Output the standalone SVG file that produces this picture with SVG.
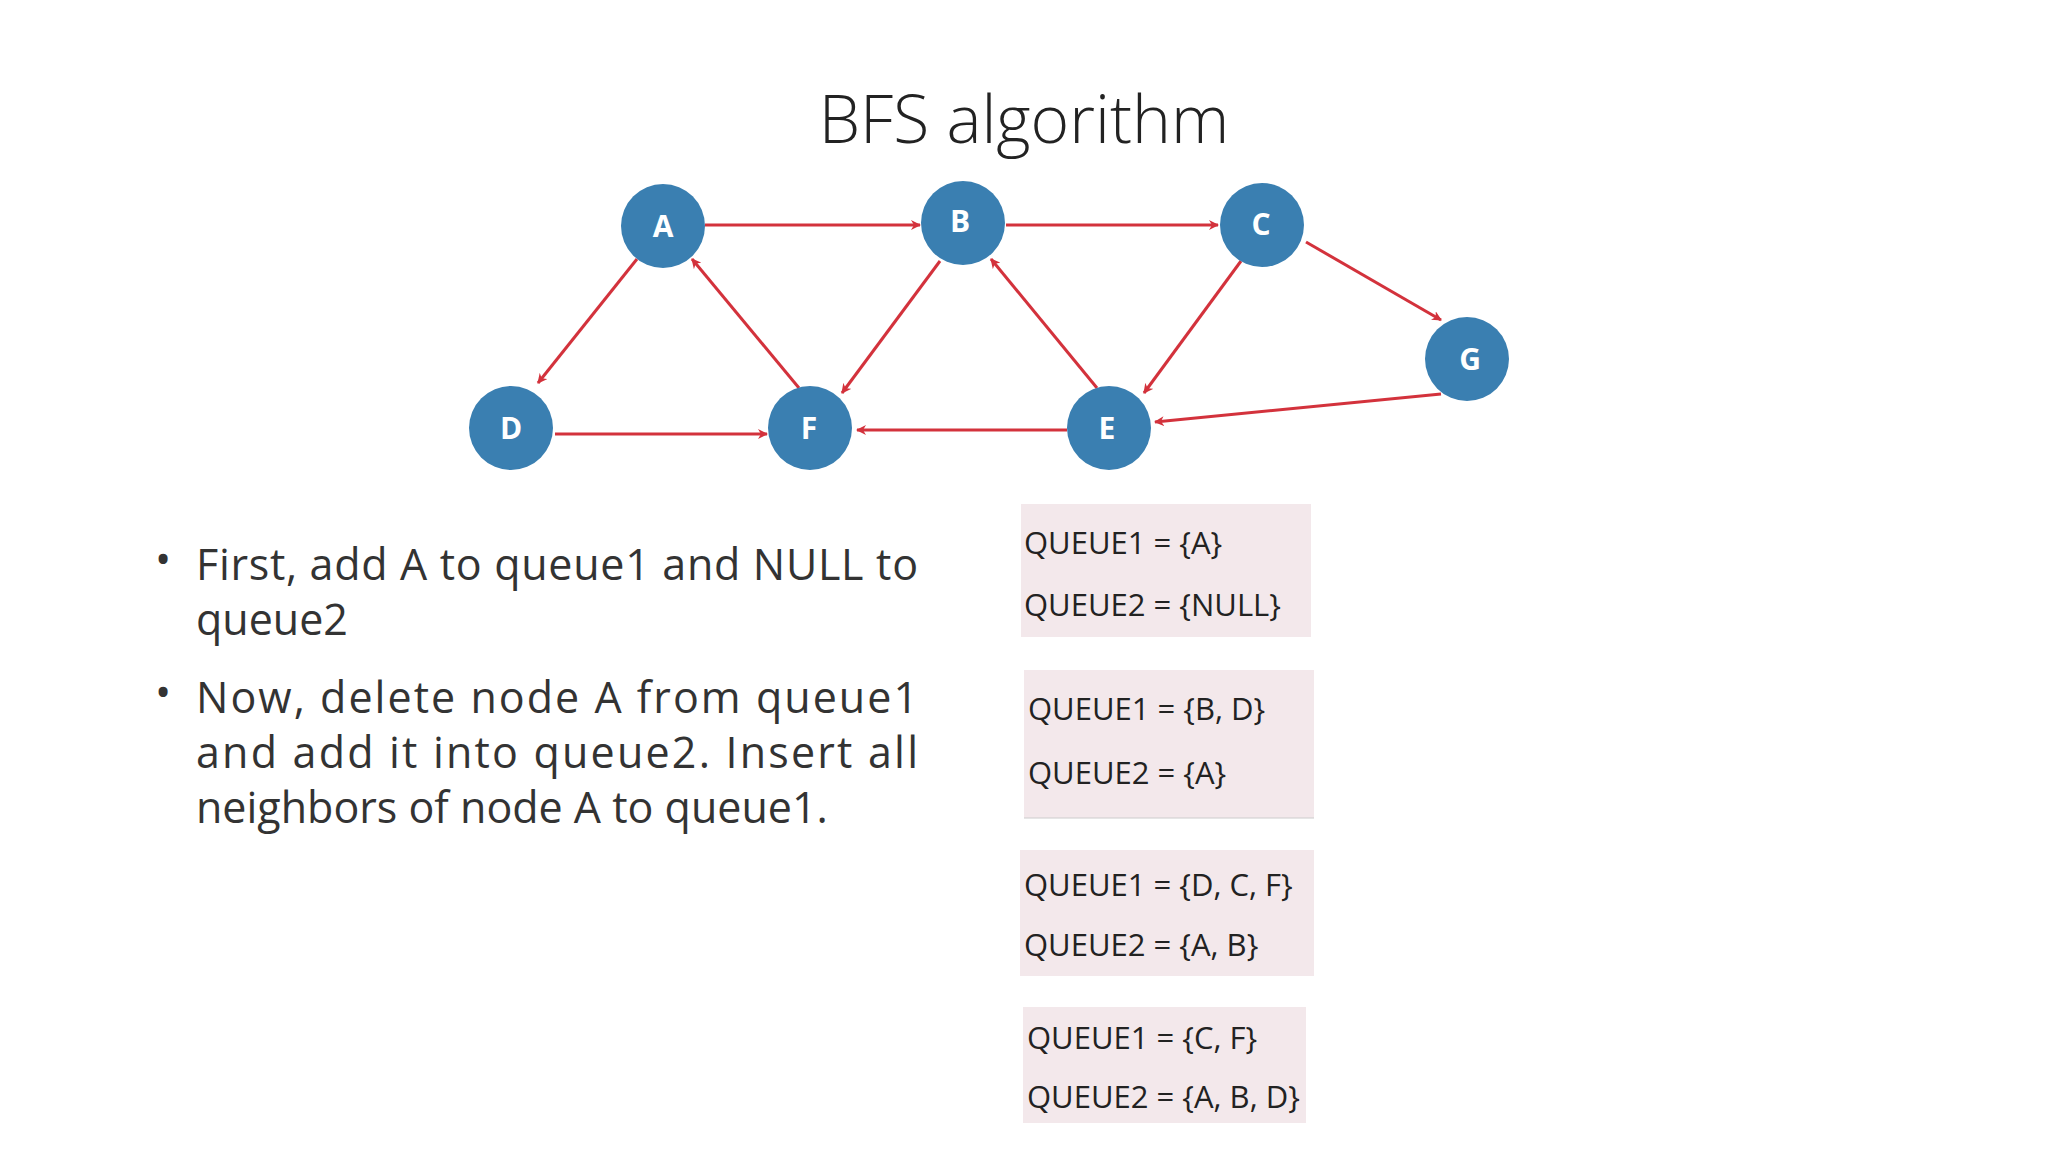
<svg xmlns="http://www.w3.org/2000/svg" width="2048" height="1152" viewBox="0 0 2048 1152">
<style>
.n{fill:#3a7fb1}
.l{fill:#fff;font-family:"Open Sans",sans-serif;font-weight:bold;font-size:30px;text-anchor:middle}
.e{stroke:#d3323c;stroke-width:3;fill:none;marker-end:url(#ah)}
.b{font-family:"Open Sans",sans-serif;font-size:43px;fill:#333}
.q{font-family:"Open Sans",sans-serif;font-size:31px;fill:#222}
.bx{fill:#f3e8eb}
</style>
<defs><marker id="ah" markerWidth="10" markerHeight="10" refX="9" refY="5" orient="auto" markerUnits="userSpaceOnUse" viewBox="0 0 10 10"><path d="M0,0 L10,5 L0,10 L3,5z" fill="#d3323c" transform="scale(1)"/></marker></defs>
<rect width="2048" height="1152" fill="#fff"/>
<text x="1024" y="143" text-anchor="middle" font-family="Open Sans, sans-serif" font-weight="300" font-size="66" fill="#222">BFS algorithm</text>
<g id="connectors">
<line class="e" x1="705" y1="225" x2="920" y2="225"/>
<line class="e" x1="1006" y1="225" x2="1218" y2="225"/>
<line class="e" x1="1306" y1="242" x2="1441" y2="320"/>
<line class="e" x1="637" y1="259" x2="538" y2="383"/>
<line class="e" x1="799" y1="388" x2="692" y2="259"/>
<line class="e" x1="940" y1="261" x2="842" y2="393"/>
<line class="e" x1="1097" y1="388" x2="991" y2="259"/>
<line class="e" x1="1241" y1="261" x2="1144" y2="393"/>
<line class="e" x1="1441" y1="394" x2="1155" y2="422"/>
<line class="e" x1="555" y1="434" x2="767" y2="434"/>
<line class="e" x1="1067" y1="430" x2="857" y2="430"/>
</g>
<g id="A"><circle class="n" cx="663" cy="226" r="42"/><text class="l" x="663" y="237">A</text></g>
<g id="B"><circle class="n" cx="963" cy="223" r="42"/><text class="l" x="960" y="232">B</text></g>
<g id="C"><circle class="n" cx="1262" cy="225" r="42"/><text class="l" x="1261" y="235">C</text></g>
<g id="G"><circle class="n" cx="1467" cy="359" r="42"/><text class="l" x="1470" y="370">G</text></g>
<g id="D"><circle class="n" cx="511" cy="428" r="42"/><text class="l" x="511" y="439">D</text></g>
<g id="F"><circle class="n" cx="810" cy="428" r="42"/><text class="l" x="809" y="439">F</text></g>
<g id="E"><circle class="n" cx="1109" cy="428" r="42"/><text class="l" x="1107" y="439">E</text></g>
<g id="bullets">
<text class="b" x="155" y="575">•</text>
<text class="b" x="196" y="580" textLength="722">First, add A to queue1 and NULL to</text>
<text class="b" x="196" y="635">queue2</text>
<text class="b" x="155" y="708">•</text>
<text class="b" x="196" y="713" textLength="722">Now, delete node A from queue1</text>
<text class="b" x="196" y="768" textLength="722">and add it into queue2. Insert all</text>
<text class="b" x="196" y="823">neighbors of node A to queue1.</text>
</g>
<g id="q1"><rect class="bx" x="1021" y="504" width="290" height="133"/><text class="q" x="1024" y="554">QUEUE1 = {A}</text><text class="q" x="1024" y="616">QUEUE2 = {NULL}</text></g>
<g id="q2"><rect class="bx" x="1024" y="670" width="290" height="148"/><line x1="1024" y1="818" x2="1314" y2="818" stroke="#ccc"/><text class="q" x="1028" y="720">QUEUE1 = {B, D}</text><text class="q" x="1028" y="784">QUEUE2 = {A}</text></g>
<g id="q3"><rect class="bx" x="1020" y="850" width="294" height="126"/><text class="q" x="1024" y="896">QUEUE1 = {D, C, F}</text><text class="q" x="1024" y="956">QUEUE2 = {A, B}</text></g>
<g id="q4"><rect class="bx" x="1023" y="1007" width="283" height="116"/><text class="q" x="1027" y="1049">QUEUE1 = {C, F}</text><text class="q" x="1027" y="1108">QUEUE2 = {A, B, D}</text></g>
</svg>
